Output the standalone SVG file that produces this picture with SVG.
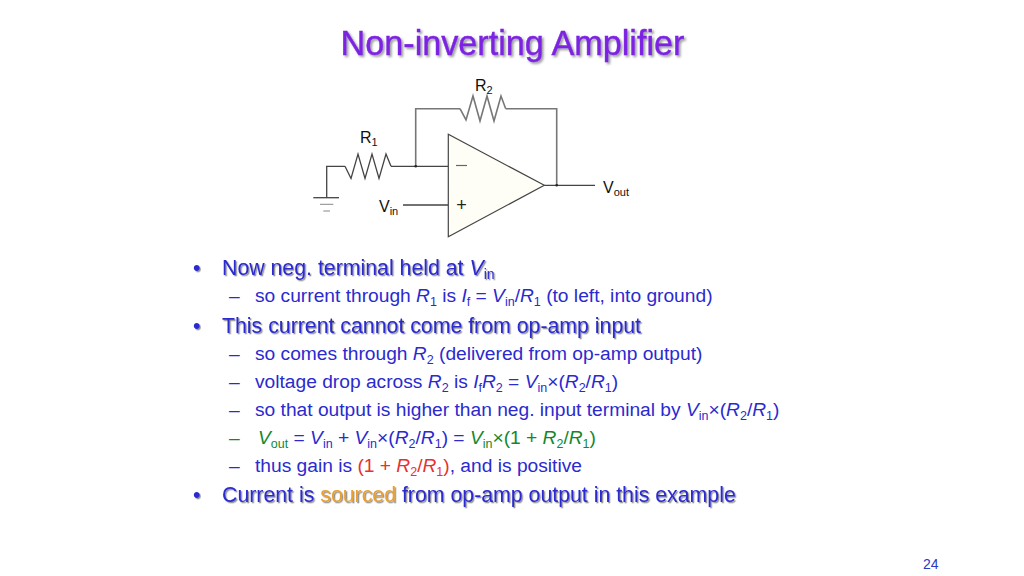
<svg xmlns="http://www.w3.org/2000/svg" width="1024" height="576" viewBox="0 0 1024 576">
<style>
text{font-family:"Liberation Sans",Arial,sans-serif;white-space:pre}
.w{fill:none;stroke:#444;stroke-width:1.3}
.g{fill:none;stroke:#777;stroke-width:1.6}
.l{font-size:16px;fill:#111}
.ls{font-size:11px}
.h{font-size:21.3px;fill:#2a2ad0;filter:url(#sh)}
.b{font-size:19.2px;fill:#2a2ad0}
.i{font-style:italic}
.s{font-size:12.5px}
.h .s{font-size:14px}
.t{font-size:34.2px;fill:#7d22e2;stroke:#7d22e2;stroke-width:0.4;filter:url(#sh2)}
.gr{fill:#12882a}
.r{fill:#e83030}
.o{fill:#e8a030}
</style>
<defs>
<filter id="sh" x="-5%" y="-30%" width="110%" height="170%"><feDropShadow dx="1.3" dy="1.3" stdDeviation="0.7" flood-color="#444" flood-opacity="0.6"/></filter>
<filter id="sh2" x="-5%" y="-30%" width="110%" height="170%"><feDropShadow dx="1.8" dy="1.8" stdDeviation="0.9" flood-color="#444" flood-opacity="0.55"/></filter>
</defs>
<rect width="1024" height="576" fill="#fff"/>
<text id="title" class="t" x="512.5" y="55" text-anchor="middle">Non-inverting Amplifier</text>
<g id="connectors">
<path class="w" d="M326.7 197.7V166.3H345M391 166.3H448.3M403 205H448.3M544.3 185.3H595"/>
<path class="g" d="M415.7 166.3V108.7H460M505.7 108.7H556.7V185.3"/>
<circle cx="415.7" cy="166.3" r="1.3" fill="#222"/>
<circle cx="556.7" cy="185.3" r="1.3" fill="#222"/>
</g>
<g id="opamp">
<path d="M448.3 134.3V236.7L544.3 185.3Z" fill="#fffef6" stroke="#444" stroke-width="1.2"/>
<path d="M456 165.5H467" stroke="#666" stroke-width="1.2" fill="none"/>
<text x="461.5" y="211" text-anchor="middle" style="font-size:18px;fill:#222">+</text>
</g>
<g id="r1">
<path class="w" d="M345 166.3L351 178.5L358 154L365 178.5L372 154L379 178.5L386 154L391 166.3"/>
<text class="l" x="360" y="143">R<tspan class="ls" dy="3">1</tspan></text>
</g>
<g id="r2">
<path class="g" d="M460 108.7L466 120L473 96L480 121L487 96L494 121L501 96L505.7 108.7"/>
<text class="l" x="475" y="91">R<tspan class="ls" dy="3">2</tspan></text>
</g>
<g id="ground">
<path class="w" d="M313.3 197.7H339"/>
<path d="M320 204.3H333.3M323.3 211H330" stroke="#888" stroke-width="1" fill="none"/>
</g>
<g id="vin"><text class="l" x="379" y="212">V<tspan class="ls" dy="3">in</tspan></text></g>
<g id="vout"><text class="l" x="603" y="193">V<tspan class="ls" dy="3">out</tspan></text></g>
<g id="body">
<text class="h" x="193" y="275">•</text>
<text class="h" x="222" y="275">Now neg. terminal held at <tspan class="i">V</tspan><tspan class="s" dy="4">in</tspan></text>
<text class="b" x="229" y="302">–</text>
<text class="b" x="255" y="302">so current through <tspan class="i">R</tspan><tspan class="s" dy="4">1</tspan><tspan dy="-4"> is </tspan><tspan class="i">I</tspan><tspan class="s" dy="4">f</tspan><tspan dy="-4"> = </tspan><tspan class="i">V</tspan><tspan class="s" dy="4">in</tspan><tspan dy="-4">/</tspan><tspan class="i">R</tspan><tspan class="s" dy="4">1</tspan><tspan dy="-4"> (to left, into ground)</tspan></text>
<text class="h" x="193" y="333">•</text>
<text class="h" x="222" y="333">This current cannot come from op-amp input</text>
<text class="b" x="229" y="360">–</text>
<text class="b" x="255" y="360">so comes through <tspan class="i">R</tspan><tspan class="s" dy="4">2</tspan><tspan dy="-4"> (delivered from op-amp output)</tspan></text>
<text class="b" x="229" y="388">–</text>
<text class="b" x="255" y="388">voltage drop across <tspan class="i">R</tspan><tspan class="s" dy="4">2</tspan><tspan dy="-4"> is </tspan><tspan class="i">I</tspan><tspan class="s" dy="4">f</tspan><tspan class="i" dy="-4">R</tspan><tspan class="s" dy="4">2</tspan><tspan dy="-4"> = </tspan><tspan class="i">V</tspan><tspan class="s" dy="4">in</tspan><tspan dy="-4">×(</tspan><tspan class="i">R</tspan><tspan class="s" dy="4">2</tspan><tspan dy="-4">/</tspan><tspan class="i">R</tspan><tspan class="s" dy="4">1</tspan><tspan dy="-4">)</tspan></text>
<text class="b" x="229" y="416">–</text>
<text class="b" x="255" y="416">so that output is higher than neg. input terminal by <tspan class="i">V</tspan><tspan class="s" dy="4">in</tspan><tspan dy="-4">×(</tspan><tspan class="i">R</tspan><tspan class="s" dy="4">2</tspan><tspan dy="-4">/</tspan><tspan class="i">R</tspan><tspan class="s" dy="4">1</tspan><tspan dy="-4">)</tspan></text>
<text class="b" x="229" y="444" style="fill:#12882a">–</text>
<text class="b" x="258" y="444"><tspan class="i gr">V</tspan><tspan class="s gr" dy="4">out</tspan><tspan dy="-4"> = </tspan><tspan class="i">V</tspan><tspan class="s" dy="4">in</tspan><tspan dy="-4"> + </tspan><tspan class="i">V</tspan><tspan class="s" dy="4">in</tspan><tspan dy="-4">×(</tspan><tspan class="i">R</tspan><tspan class="s" dy="4">2</tspan><tspan dy="-4">/</tspan><tspan class="i">R</tspan><tspan class="s" dy="4">1</tspan><tspan dy="-4">) = </tspan><tspan class="i gr">V</tspan><tspan class="s gr" dy="4">in</tspan><tspan class="gr" dy="-4">×(1 + </tspan><tspan class="i gr">R</tspan><tspan class="s gr" dy="4">2</tspan><tspan class="gr" dy="-4">/</tspan><tspan class="i gr">R</tspan><tspan class="s gr" dy="4">1</tspan><tspan class="gr" dy="-4">)</tspan></text>
<text class="b" x="229" y="472">–</text>
<text class="b" x="255" y="472">thus gain is <tspan class="r">(1 + <tspan class="i">R</tspan><tspan class="s" dy="4">2</tspan><tspan dy="-4">/</tspan><tspan class="i">R</tspan><tspan class="s" dy="4">1</tspan><tspan dy="-4">)</tspan></tspan>, and is positive</text>
<text class="h" x="193" y="502">•</text>
<text class="h" x="222" y="502">Current is <tspan class="o">sourced</tspan> from op-amp output in this example</text>
</g>
<text id="page" x="923" y="569" style="font-size:14px;fill:#2a3ac0">24</text>
</svg>
